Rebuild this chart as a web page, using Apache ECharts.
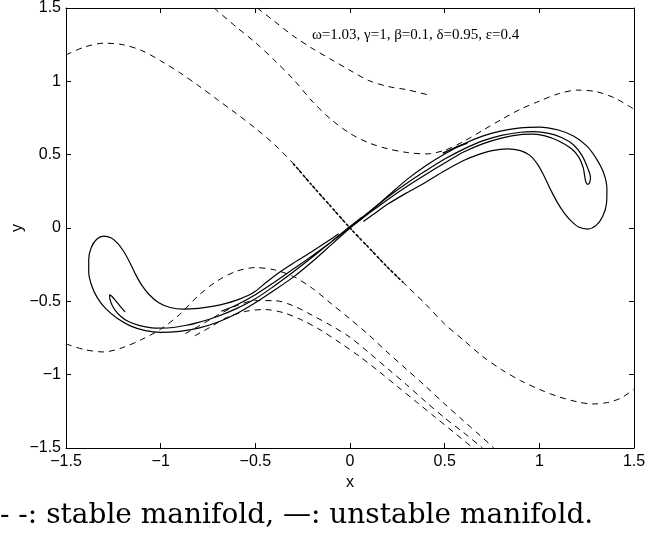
<!DOCTYPE html>
<html>
<head>
<meta charset="utf-8">
<script src="https://cdn.jsdelivr.net/npm/echarts@6/dist/echarts.min.js"></script>
<style>
  html, body { margin: 0; padding: 0; background: #fff; }
  #chart { width: 647px; height: 540px; }
</style>
</head>
<body>
<div id="chart"></div>
<script>
// Stable manifold branches (dashed), [x, y]
const stableMain = [
  [-1.5, 1.18], [-1.4, 1.235], [-1.3, 1.26], [-1.2, 1.25], [-1.1, 1.21], [-1.0, 1.14],
  [-0.9, 1.06], [-0.8, 0.97], [-0.7, 0.875], [-0.6, 0.78], [-0.5, 0.68], [-0.4, 0.57],
  [-0.3, 0.44], [-0.2, 0.29], [-0.1, 0.145], [0, 0], [0.1, -0.135], [0.2, -0.27],
  [0.3, -0.395], [0.4, -0.52], [0.5, -0.655], [0.6, -0.765], [0.7, -0.875], [0.8, -0.965],
  [0.9, -1.04], [1.0, -1.1], [1.1, -1.15], [1.2, -1.185], [1.28, -1.2], [1.36, -1.19],
  [1.43, -1.16], [1.5, -1.1]
];
const stableCore = [[-0.3, 0.44], [-0.2, 0.29], [-0.1, 0.145], [0, 0], [0.1, -0.135], [0.2, -0.27], [0.28, -0.37]];
const stableUpper = [
  [-0.718, 1.5], [-0.6, 1.37], [-0.5, 1.265], [-0.4, 1.145], [-0.3, 1.015], [-0.2, 0.865],
  [-0.1, 0.74], [0, 0.645], [0.1, 0.58], [0.2, 0.54], [0.3, 0.515], [0.4, 0.505],
  [0.5, 0.53], [0.6, 0.59], [0.7, 0.665], [0.8, 0.74], [0.9, 0.81], [1.0, 0.865],
  [1.1, 0.915], [1.2, 0.94], [1.3, 0.93], [1.4, 0.885], [1.5, 0.81]
];
const stableTop = [
  [-0.49, 1.5], [-0.4, 1.41], [-0.3, 1.31], [-0.2, 1.225], [-0.1, 1.15], [0, 1.075],
  [0.1, 1.005], [0.2, 0.965], [0.3, 0.943], [0.42, 0.905]
];
const stableLower = [
  [-1.5, -0.79], [-1.4, -0.83], [-1.3, -0.845], [-1.2, -0.815], [-1.1, -0.76],
  [-1.0, -0.69], [-0.9, -0.59], [-0.8, -0.46], [-0.7, -0.36], [-0.6, -0.295],
  [-0.5, -0.27], [-0.4, -0.285], [-0.3, -0.33], [-0.2, -0.41], [-0.1, -0.515],
  [0, -0.62], [0.1, -0.73], [0.2, -0.85], [0.3, -0.965], [0.4, -1.08], [0.5, -1.2],
  [0.6, -1.315], [0.7, -1.43], [0.76, -1.5]
];
const stableLower2 = [
  [-0.87, -0.72], [-0.8, -0.67], [-0.7, -0.595], [-0.6, -0.53], [-0.5, -0.495],
  [-0.4, -0.495], [-0.3, -0.53], [-0.2, -0.595], [-0.1, -0.665], [0, -0.745],
  [0.1, -0.85], [0.2, -0.96], [0.3, -1.07], [0.4, -1.185], [0.5, -1.295],
  [0.6, -1.395], [0.7, -1.5]
];
const stableLower3 = [
  [-0.82, -0.735], [-0.75, -0.685], [-0.65, -0.61], [-0.55, -0.568], [-0.45, -0.556],
  [-0.35, -0.578], [-0.25, -0.63], [-0.15, -0.7], [-0.05, -0.785], [0.05, -0.875],
  [0.15, -0.975], [0.25, -1.08], [0.35, -1.185], [0.45, -1.29], [0.55, -1.395],
  [0.65, -1.5]
];

// Unstable manifold branches (solid), [x, y]
const unstableRight = [
  [0, 0], [0.1, 0.105], [0.2, 0.218], [0.3, 0.33], [0.4, 0.425], [0.5, 0.505],
  [0.6, 0.573], [0.7, 0.626], [0.8, 0.662], [0.9, 0.683], [1.0, 0.688], [1.1, 0.668],
  [1.18, 0.627], [1.25, 0.56], [1.3, 0.475], [1.34, 0.375], [1.357, 0.265],
  [1.355, 0.17], [1.335, 0.08], [1.3, 0.018], [1.255, -0.007], [1.21, 0.005],
  [1.17, 0.045], [1.13, 0.105], [1.095, 0.175], [1.06, 0.26], [1.025, 0.355],
  [0.99, 0.435], [0.95, 0.495], [0.9, 0.528], [0.83, 0.539], [0.75, 0.527],
  [0.67, 0.497], [0.6, 0.46], [0.5, 0.39], [0.4, 0.312], [0.3, 0.24], [0.2, 0.163],
  [0.12, 0.09], [0.07, 0.045]
];
const unstableLeft = [
  [0, 0], [-0.1, -0.115], [-0.2, -0.23], [-0.3, -0.335], [-0.4, -0.425], [-0.5, -0.51],
  [-0.6, -0.585], [-0.7, -0.643], [-0.8, -0.683], [-0.9, -0.705], [-1.0, -0.712],
  [-1.08, -0.7], [-1.16, -0.667], [-1.23, -0.615], [-1.29, -0.55], [-1.335, -0.475],
  [-1.365, -0.39], [-1.38, -0.3], [-1.38, -0.215], [-1.367, -0.135], [-1.338, -0.077],
  [-1.3, -0.055], [-1.263, -0.067], [-1.228, -0.103], [-1.195, -0.16], [-1.165, -0.23],
  [-1.135, -0.31], [-1.1, -0.39], [-1.06, -0.455], [-1.01, -0.51], [-0.95, -0.542],
  [-0.88, -0.553], [-0.8, -0.548], [-0.72, -0.533], [-0.65, -0.512], [-0.58, -0.483],
  [-0.51, -0.44], [-0.44, -0.368], [-0.37, -0.3], [-0.3, -0.24], [-0.2, -0.16],
  [-0.12, -0.092], [-0.06, -0.04]
];
const unstableFold = [
  [-1.188, -0.572], [-1.21, -0.54], [-1.235, -0.5], [-1.258, -0.465], [-1.27, -0.455],
  [-1.268, -0.485], [-1.257, -0.525], [-1.238, -0.565], [-1.21, -0.603], [-1.17, -0.638],
  [-1.11, -0.666], [-1.03, -0.682], [-0.95, -0.68], [-0.87, -0.665], [-0.8, -0.643],
  [-0.7, -0.603], [-0.6, -0.55], [-0.5, -0.483], [-0.4, -0.395], [-0.3, -0.3],
  [-0.2, -0.2], [-0.1, -0.095], [0, 0.01], [0.1, 0.11], [0.2, 0.212], [0.3, 0.305],
  [0.4, 0.39], [0.5, 0.47], [0.6, 0.538], [0.7, 0.594], [0.8, 0.632], [0.9, 0.653],
  [0.97, 0.657], [1.05, 0.645], [1.12, 0.615], [1.18, 0.568], [1.225, 0.495],
  [1.255, 0.41], [1.27, 0.345], [1.266, 0.31], [1.256, 0.298], [1.246, 0.312],
  [1.24, 0.35], [1.232, 0.41], [1.21, 0.48], [1.17, 0.54], [1.1, 0.595], [1.03, 0.628],
  [0.97, 0.64], [0.9, 0.637], [0.8, 0.613], [0.7, 0.574], [0.6, 0.518], [0.5, 0.443],
  [0.4, 0.365], [0.3, 0.283], [0.2, 0.195], [0.1, 0.1], [0, 0.003], [-0.1, -0.095],
  [-0.2, -0.19], [-0.3, -0.28], [-0.4, -0.37], [-0.5, -0.455], [-0.6, -0.525],
  [-0.68, -0.568]
];
const unstableStub = [[0.49, 0.51], [0.555, 0.548], [0.62, 0.58]];

const paramText = 'ω=1.03, γ=1, β=0.1, δ=0.95, ε=0.4';
const captionText = '- -: stable manifold, —: unstable manifold.';

const minusFmt = v => String(v).replace('-', '\u2212');
const AX = '#000';
const SANS = 'Liberation Sans';

function axisCommon(showLabels) {
  return {
    type: 'value', min: -1.5, max: 1.5, interval: 0.5,
    axisLine: { show: true, onZero: false, lineStyle: { color: AX, width: 1 } },
    axisTick: { show: true, inside: true, length: 5, lineStyle: { color: AX, width: 1 } },
    axisLabel: {
      show: showLabels, color: '#000', fontFamily: SANS, fontSize: 16,
      formatter: minusFmt, showMinLabel: true, showMaxLabel: true
    },
    splitLine: { show: false }
  };
}

function dashed(data, width, dash) {
  return {
    type: 'line', data: data, showSymbol: false, smooth: 0.3, silent: true,
    lineStyle: { color: '#000', width: width || 1, type: dash || [6, 5] },
    xAxisIndex: 0, yAxisIndex: 0, z: 2
  };
}
function solid(data, width) {
  return {
    type: 'line', data: data, showSymbol: false, smooth: 0.3, silent: true,
    lineStyle: { color: '#000', width: width || 1.2 },
    xAxisIndex: 0, yAxisIndex: 0, z: 3
  };
}

const chart = echarts.init(document.getElementById('chart'), null, { renderer: 'canvas' });
chart.setOption({
  animation: false,
  backgroundColor: '#fff',
  grid: {
    left: 66, top: 8, right: 13, bottom: 92,
    containLabel: false, outerBoundsMode: 'none'
  },
  xAxis: [
    Object.assign(axisCommon(true), {
      position: 'bottom', name: 'x', nameLocation: 'middle', nameGap: 25,
      nameTextStyle: { color: '#000', fontFamily: SANS, fontSize: 16 },
      axisLabel: Object.assign(axisCommon(true).axisLabel, { margin: 6 })
    }),
    Object.assign(axisCommon(false), { position: 'top' })
  ],
  yAxis: [
    Object.assign(axisCommon(true), {
      position: 'left',
      axisLabel: Object.assign(axisCommon(true).axisLabel, { margin: 5 })
    }),
    Object.assign(axisCommon(false), { position: 'right' })
  ],
  series: [
    dashed(stableMain),
    dashed(stableCore, 1.6, [3, 2]),
    dashed(stableUpper),
    dashed(stableTop),
    dashed(stableLower),
    dashed(stableLower2),
    dashed(stableLower3),
    solid(unstableRight),
    solid(unstableLeft),
    solid(unstableFold),
    solid(unstableStub, 1.6)
  ],
  graphic: [
    {
      // y-axis title
      type: 'text', x: 18, y: 228, rotation: Math.PI / 2,
      style: {
        text: 'y', fill: '#000', font: '16px "Liberation Sans"',
        align: 'center', verticalAlign: 'middle'
      }
    },
    {
      type: 'text', left: 312, top: 28,
      style: { text: paramText, fill: '#000', font: '15px "Liberation Serif"' }
    },
    {
      type: 'text', left: 0, top: 502,
      style: { text: captionText, fill: '#000', font: '28px "DejaVu Serif"' }
    }
  ]
});
</script>
</body>
</html>
